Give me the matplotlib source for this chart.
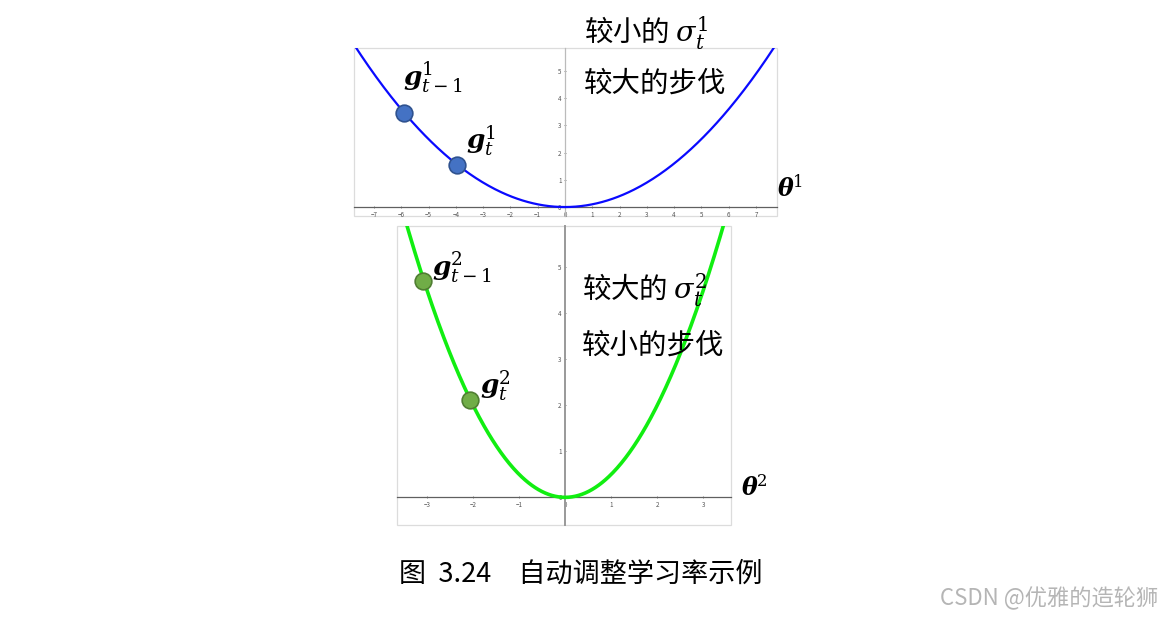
import numpy as np
import matplotlib as mpl
mpl.use("Agg")
import matplotlib.pyplot as plt
from matplotlib.patches import Rectangle

mpl.rcParams.update({
    "font.family": ["Noto Sans CJK SC", "DejaVu Sans"],
    "mathtext.fontset": "custom",
    "mathtext.rm": "DejaVu Serif",
    "mathtext.it": "DejaVu Serif:italic",
    "mathtext.bf": "DejaVu Serif:bold:italic",
})

W, H = 1162, 618

# parabola coefficients and gradient points
coef1 = 0.1
coef2 = 0.5
pts1_x = [-5.9, -3.95]
pts1_y = [3.45, 1.55]
pts2_x = [-3.08, -2.07]
pts2_y = [4.7, 2.12]
xt1 = [-7, -6, -5, -4, -3, -2, -1, 0, 1, 2, 3, 4, 5, 6, 7]
yt1 = [0, 1, 2, 3, 4, 5]
xt2 = [-3, -2, -1, 0, 1, 2, 3]
yt2 = [0, 1, 2, 3, 4, 5]


def px_axes(fig, l, t, r, b):
    return fig.add_axes([l / W, 1 - b / H, (r - l) / W, (b - t) / H])


def panel(ax, xlim, ylim, coef, px, py, col, lw, fc, ec, xt, yt, ycol, ylw):
    xs = np.linspace(xlim[0], xlim[1], 400)
    ax.plot(xs, coef * xs**2, color=col, lw=lw, zorder=3)
    ax.plot(px, py, "o", ms=12, mfc=fc, mec=ec, mew=1.2, zorder=4)
    ax.set_xlim(*xlim); ax.set_ylim(*ylim)
    for s in ("top", "right"):
        ax.spines[s].set_visible(False)
    ax.spines["left"].set_position("zero")
    ax.spines["bottom"].set_position("zero")
    ax.spines["bottom"].set_color("#606060"); ax.spines["bottom"].set_linewidth(0.9)
    ax.spines["left"].set_color(ycol); ax.spines["left"].set_linewidth(ylw)
    ax.set_xticks(xt); ax.set_yticks(yt)
    ax.tick_params(labelsize=4.5, length=2, width=0.5, direction="inout",
                   colors="#555555", pad=1.5)
    ax.patch.set_alpha(0)
    ax.add_patch(Rectangle((0, 0), 1, 1, transform=ax.transAxes, fill=False,
                           edgecolor="#dcdcdc", lw=0.9, clip_on=False))


fig = plt.figure(figsize=(W / 100, H / 100), dpi=100)

ax1 = px_axes(fig, 354, 48, 777, 216)
panel(ax1, (-7.73, 7.77), (-0.33, 5.85), coef1, pts1_x, pts1_y, "#0a0aff", 1.6,
      "#4472c4", "#2f528f", xt1, yt1, "#bbbbbb", 0.9)

ax2 = px_axes(fig, 397, 226, 731, 525)
panel(ax2, (-3.65, 3.6), (-0.6, 5.89), coef2, pts2_x, pts2_y, "#11ee11", 2.6,
      "#70ad47", "#507e32", xt2, yt2, "#999999", 1.4)


def ftext(x, y, s, size=20.5, ha="left", **kw):
    fig.text(x / W, 1 - y / H, s, fontsize=size, ha=ha, va="center", **kw)


ftext(584, 33, r"较小的 $\sigma_t^1$")
ftext(584, 84, "较大的步伐")
ftext(403, 77, r"$\mathbf{g}_{t-1}^1$", size=19)
ftext(466, 141, r"$\mathbf{g}_t^1$", size=19)
ftext(777, 188, r"$\mathbf{\theta}^1$", size=17)

ftext(432, 267, r"$\mathbf{g}_{t-1}^2$", size=19)
ftext(480, 386, r"$\mathbf{g}_t^2$", size=19)
ftext(582, 290, r"较大的 $\sigma_t^2$")
ftext(582, 346, "较小的步伐")
ftext(741, 488, r"$\mathbf{\theta}^2$", size=17)

ftext(399, 574, "图  3.24　自动调整学习率示例", size=19.5, ha="left")
ftext(1158, 598, "CSDN @优雅的造轮狮", size=16, ha="right", color="#b5b5b5")

fig.savefig("out.png", dpi=100)
